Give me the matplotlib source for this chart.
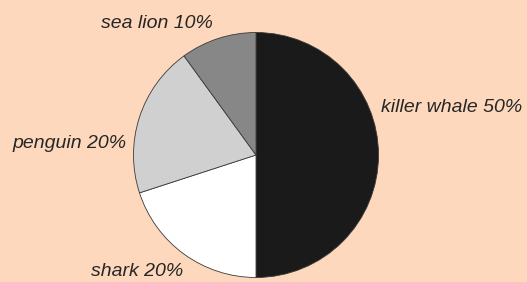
import matplotlib
matplotlib.use("Agg")
import matplotlib.pyplot as plt

# data
animals = ["killer whale", "shark", "penguin", "sea lion"]
shares = [50, 20, 20, 10]
colors = ["#1a1a1a", "#ffffff", "#d0d0d0", "#878787"]

# label anchor positions in pixels (left x, center y)
label_px = {
    "killer whale": (381, 107),
    "shark": (91, 272),
    "penguin": (12, 143),
    "sea lion": (101, 23),
}

W, H = 527, 282
cx, cy, r = 256, 155, 122.5

fig = plt.figure(figsize=(W / 100, H / 100), dpi=100)
fig.patch.set_facecolor("#fdd8bc")
ax = fig.add_axes([0, 0, 1, 1])

ax.pie(
    shares,
    colors=colors,
    startangle=90,
    counterclock=False,
    radius=1,
    center=(0, 0),
    frame=True,
    wedgeprops=dict(edgecolor="#3a3a3a", linewidth=0.6),
)
ax.set_xlim(-cx / r, (W - cx) / r)
ax.set_ylim(-(H - cy) / r, cy / r)
ax.set_aspect("equal")
ax.axis("off")

for name, val in zip(animals, shares):
    px, py = label_px[name]
    ax.text(
        (px - cx) / r, (cy - py) / r, f"{name} {val}%",
        ha="left", va="center", fontsize=14, style="italic",
        family="Liberation Sans", color="#262626",
    )

fig.savefig("out.png", dpi=100, facecolor=fig.get_facecolor())
